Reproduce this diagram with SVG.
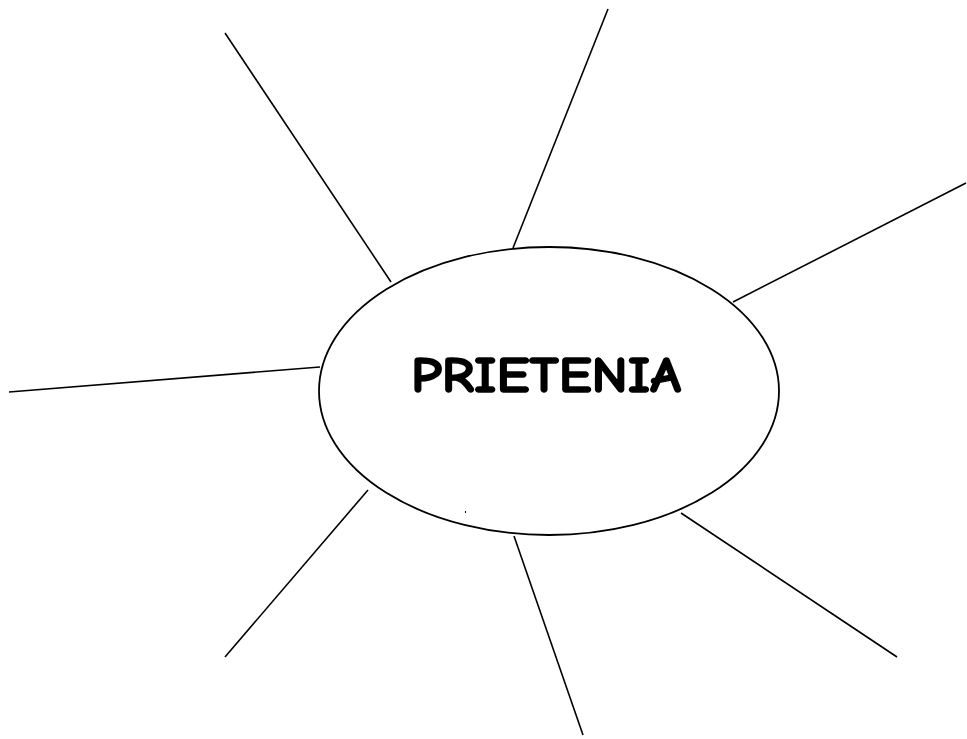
<svg xmlns="http://www.w3.org/2000/svg" width="967" height="739" viewBox="0 0 967 739">
<style>
.ln{stroke:#000;stroke-width:1.6;fill:none}
.el{stroke:#000;stroke-width:1.8;fill:#fff}
.t{font-family:"Comic Sans MS","Comic Neue","DejaVu Sans",sans-serif;font-weight:bold;font-size:50px;fill:#000;stroke:#000;stroke-width:1.4;stroke-linejoin:round}
</style>
<rect width="967" height="739" fill="#fff"/>
<g id="connectors">
<line class="ln" x1="225" y1="33" x2="391" y2="282"/>
<line class="ln" x1="608" y1="9" x2="513" y2="248"/>
<line class="ln" x1="966" y1="183" x2="733" y2="302"/>
<line class="ln" x1="9" y1="392" x2="320" y2="367"/>
<line class="ln" x1="368" y1="490" x2="225" y2="657"/>
<line class="ln" x1="514" y1="536" x2="583" y2="735"/>
<line class="ln" x1="681" y1="513" x2="897" y2="657"/>
</g>
<g id="center">
<ellipse class="el" cx="549" cy="391" rx="230" ry="144"/>
<text class="t" x="546" y="392" text-anchor="middle" textLength="270" lengthAdjust="spacingAndGlyphs">PRIETENIA</text>
<rect x="465" y="511" width="1" height="2" fill="#000"/>
</g>
</svg>
